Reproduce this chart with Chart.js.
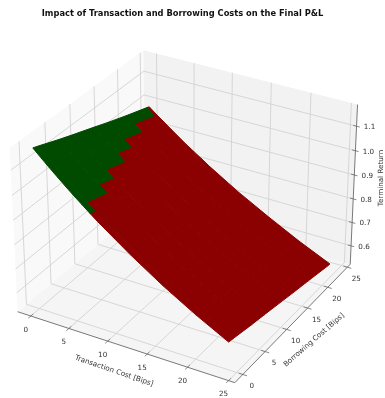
<!DOCTYPE html>
<html>
<head>
<meta charset="utf-8">
<title>Impact of Transaction and Borrowing Costs on the Final P&amp;L</title>
<script src="https://cdn.jsdelivr.net/npm/chart.js@4"></script>
<style>
  html, body { margin: 0; padding: 0; background: #fff; }
  canvas { display: block; }
</style>
</head>
<body>
<canvas id="surfaceChart" width="385" height="398"></canvas>
<script>
// ===== DATA =====
const transactionCost = [0, 1, 2, 3, 4, 5, 6, 7, 8, 12, 16, 20, 24];
const borrowingCost = [0, 1, 5, 8, 12, 15, 19, 23.5, 24];

const returnAtBorrow0 = [1.176, 1.146, 1.117, 1.089, 1.061, 1.034, 1.008, 0.982, 0.957, 0.864, 0.779, 0.703, 0.634];
const returnAtBorrow1 = [1.168, 1.138, 1.109, 1.081, 1.054, 1.027, 1.001, 0.975, 0.951, 0.858, 0.774, 0.698, 0.630];
const returnAtBorrow5 = [1.134, 1.106, 1.078, 1.051, 1.024, 0.998, 0.973, 0.948, 0.924, 0.834, 0.752, 0.678, 0.612];
const returnAtBorrow8 = [1.110, 1.082, 1.055, 1.029, 1.002, 0.977, 0.952, 0.928, 0.905, 0.817, 0.737, 0.664, 0.600];
const returnAtBorrow12 = [1.079, 1.052, 1.025, 1.000, 0.974, 0.950, 0.926, 0.903, 0.880, 0.794, 0.716, 0.646, 0.583];
const returnAtBorrow15 = [1.055, 1.029, 1.003, 0.978, 0.953, 0.929, 0.906, 0.884, 0.862, 0.778, 0.701, 0.633, 0.570];
const returnAtBorrow19 = [1.025, 0.999, 0.975, 0.951, 0.927, 0.903, 0.881, 0.859, 0.837, 0.756, 0.683, 0.615, 0.554];
const returnAtBorrow235 = [0.993, 0.968, 0.944, 0.921, 0.897, 0.874, 0.853, 0.832, 0.810, 0.733, 0.661, 0.595, 0.535];
const returnAtBorrow24 = [0.989, 0.964, 0.941, 0.917, 0.894, 0.871, 0.850, 0.829, 0.807, 0.729, 0.659, 0.593, 0.534];
const terminalReturn = [returnAtBorrow0, returnAtBorrow1, returnAtBorrow5, returnAtBorrow8, returnAtBorrow12,
  returnAtBorrow15, returnAtBorrow19, returnAtBorrow235, returnAtBorrow24];

// how many transaction cost columns stay green in each borrowing cost row
const greenColumns = [7, 6, 5, 4, 3, 2, 1, 0];

const xTicks = [0, 5, 10, 15, 20, 25];
const yTicks = [0, 5, 10, 15, 20, 25];
const zTicks = [0.6, 0.7, 0.8, 0.9, 1.0, 1.1];

const titleText = 'Impact of Transaction and Borrowing Costs on the Final P&L';
const xLabel = 'Transaction Cost [Bips]';
const yLabel = 'Borrowing Cost [Bips]';
const zLabel = 'Terminal Return';

// ===== 3D VIEW (elev 30, azim -60, same as a default mplot3d camera) =====
const X_LIM = [-1.75, 25.75];
const Y_LIM = [-1.75, 25.75];
const Z_LIM = [0.52, 1.187];
const BOX = [1.1905, 1.1905, 0.893];
const DIST = 10;
const SCALE = 209, CENTER_X = 187, CENTER_Y = 208.5, PAGE_H = 398;

const GREEN = '#004b00';
const RED = '#8b0000';
const GRID = '#d2d2d2';
const AXIS = '#6a6a6a';
const FONT = '"DejaVu Sans"';

function project(x, y, z) {
  const px = ((x - X_LIM[0]) / (X_LIM[1] - X_LIM[0]) - 0.5) * BOX[0];
  const py = ((y - Y_LIM[0]) / (Y_LIM[1] - Y_LIM[0]) - 0.5) * BOX[1];
  const pz = ((z - Z_LIM[0]) / (Z_LIM[1] - Z_LIM[0]) - 0.5) * BOX[2];
  const el = 30 * Math.PI / 180, az = -60 * Math.PI / 180;
  const sx = -Math.sin(az), sy = Math.cos(az);
  const right = sx * px + sy * py;
  const up = -Math.sin(el) * Math.cos(az) * px - Math.sin(el) * Math.sin(az) * py + Math.cos(el) * pz;
  const depth = Math.cos(el) * Math.cos(az) * px + Math.cos(el) * Math.sin(az) * py + Math.sin(el) * pz;
  const k = DIST / (DIST - depth);
  return { x: CENTER_X + SCALE * right * k, y: PAGE_H - (CENTER_Y - SCALE * up * k) };
}

function polygon(corners, color, width) {
  const pts = corners.map(c => project(c[0], c[1], c[2]));
  pts.push(pts[0]);
  return { data: pts, polygonFill: color, borderColor: color, borderWidth: width };
}

function line(from, to, color, width) {
  return { data: [project(...from), project(...to)], borderColor: color, borderWidth: width };
}

function polyline(points, color, width) {
  return { data: points.map(p => project(...p)), borderColor: color, borderWidth: width };
}

function buildDatasets() {
  const [x0, x1] = X_LIM, [y0, y1] = Y_LIM, [z0, z1] = Z_LIM;
  const sets = [];

  // Panes
  sets.push(polygon([[x0, y0, z0], [x0, y1, z0], [x0, y1, z1], [x0, y0, z1]], '#f9f9f9', 0));
  sets.push(polygon([[x0, y1, z0], [x1, y1, z0], [x1, y1, z1], [x0, y1, z1]], '#f2f2f2', 0));
  sets.push(polygon([[x0, y0, z0], [x1, y0, z0], [x1, y1, z0], [x0, y1, z0]], '#f5f5f5', 0));

  // Grid lines
  xTicks.forEach(t => sets.push(polyline([[t, y0, z0], [t, y1, z0], [t, y1, z1]], GRID, 0.9)));
  yTicks.forEach(t => sets.push(polyline([[x1, t, z0], [x0, t, z0], [x0, t, z1]], GRID, 0.9)));
  zTicks.forEach(t => sets.push(polyline([[x0, y0, t], [x0, y1, t], [x1, y1, t]], GRID, 0.9)));

  // Axis lines and tick marks
  sets.push(line([x0, y0, z0], [x1, y0, z0], AXIS, 0.9));
  sets.push(line([x1, y0, z0], [x1, y1, z0], AXIS, 0.9));
  sets.push(line([x1, y1, z0], [x1, y1, z1], AXIS, 0.9));
  xTicks.forEach(t => sets.push(line([t, y0 - 0.5, z0], [t, y0 + 0.5, z0], AXIS, 0.8)));
  yTicks.forEach(t => sets.push(line([x1 - 0.5, t, z0], [x1 + 0.5, t, z0], AXIS, 0.8)));
  zTicks.forEach(t => sets.push(line([x1 - 0.4, y1, t], [x1 + 0.4, y1, t], AXIS, 0.8)));

  // Surface cells, red first so the green staircase edge stays sharp
  const cells = { red: [], green: [] };
  borrowingCost.slice(0, -1).forEach((by, j) => {
    transactionCost.slice(0, -1).forEach((tx, i) => {
      const isGreen = i < greenColumns[j];
      (isGreen ? cells.green : cells.red).push(polygon([
        [tx, by, terminalReturn[j][i]],
        [transactionCost[i + 1], by, terminalReturn[j][i + 1]],
        [transactionCost[i + 1], borrowingCost[j + 1], terminalReturn[j + 1][i + 1]],
        [tx, borrowingCost[j + 1], terminalReturn[j + 1][i]]
      ], isGreen ? GREEN : RED, 1));
    });
  });
  sets.push(...cells.red, ...cells.green);

  // Chart.js paints the first dataset last
  return sets.reverse();
}

// fills the closed datasets from the points the line controller placed
const polygonFillPlugin = {
  id: 'polygonFill',
  beforeDatasetDraw(chart, args) {
    const ds = chart.data.datasets[args.index];
    if (!ds.polygonFill) return;
    const pts = args.meta.data;
    const ctx = chart.ctx;
    ctx.save();
    ctx.beginPath();
    pts.forEach((p, i) => i ? ctx.lineTo(p.x, p.y) : ctx.moveTo(p.x, p.y));
    ctx.closePath();
    ctx.fillStyle = ds.polygonFill;
    ctx.fill();
    ctx.restore();
  }
};

function drawText(ctx, text, x, y, angle, size) {
  ctx.save();
  ctx.translate(x, y);
  ctx.rotate(angle * Math.PI / 180);
  ctx.font = size + 'px ' + FONT;
  ctx.fillStyle = '#333';
  ctx.textAlign = 'center';
  ctx.textBaseline = 'middle';
  ctx.fillText(text, 0, 0);
  ctx.restore();
}

const axisTextPlugin = {
  id: 'axisText',
  afterDraw(chart) {
    const ctx = chart.ctx, sx = chart.scales.x, sy = chart.scales.y;
    const at = (p, dx, dy) => [sx.getPixelForValue(p.x) + dx, sy.getPixelForValue(p.y) + dy];

    xTicks.forEach(t => {
      const [px, py] = at(project(t, Y_LIM[0], Z_LIM[0]), -5, 14);
      drawText(ctx, String(t), px, py, 0, 7.2);
    });
    yTicks.forEach(t => {
      const [px, py] = at(project(X_LIM[1], t, Z_LIM[0]), 9, 12);
      drawText(ctx, String(t), px, py, 0, 7.2);
    });
    zTicks.forEach(t => {
      const [px, py] = at(project(X_LIM[1], Y_LIM[1], t), 13, 1);
      drawText(ctx, t.toFixed(1), px, py, 0, 7.2);
    });

    drawText(ctx, xLabel, 114, 371, 19, 7.2);
    drawText(ctx, yLabel, 314, 340, -41, 7.2);
    drawText(ctx, zLabel, 381, 178, -90, 7.2);
  }
};

new Chart(document.getElementById('surfaceChart'), {
  type: 'scatter',
  data: { datasets: buildDatasets() },
  plugins: [polygonFillPlugin, axisTextPlugin],
  options: {
    responsive: false,
    animation: false,
    layout: { padding: { right: 20 } },
    datasets: { scatter: { showLine: true, pointRadius: 0, pointHoverRadius: 0, tension: 0, clip: false } },
    scales: {
      x: { type: 'linear', display: false, min: 0, max: 365 },
      y: { type: 'linear', display: false, min: 0, max: 371 }
    },
    plugins: {
      legend: { display: false },
      tooltip: { enabled: false },
      title: {
        display: true,
        text: titleText,
        fullSize: false,
        color: '#111',
        font: { family: FONT, size: 8.3, weight: 'bold', lineHeight: 1.2 },
        padding: { top: 9, bottom: 8.04 }
      }
    }
  }
});
</script>
</body>
</html>
